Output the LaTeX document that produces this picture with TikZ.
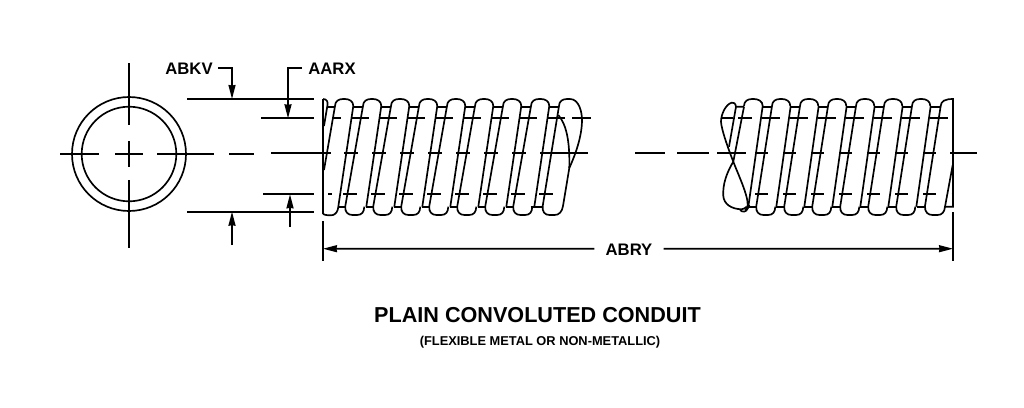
\documentclass[tikz,border=0pt]{standalone}
\usepackage{fontspec}
\setmainfont{Liberation Sans}
\usetikzlibrary{arrows.meta}
\tikzset{
  line/.style={line width=0.95pt},
  dimarrow/.style={line width=0.95pt, -{Stealth[length=0.28cm,width=0.14cm,inset=0.3pt]}},
  callout/.style={font=\fontsize{9.5}{11}\selectfont\bfseries, inner sep=0pt},
}
% one turn of the coil, #1 = x of the crest, #2 = shift of the lower end
\newcommand{\coilband}[2]{
  \draw [line, line join=round] ({#1+18.3},106) .. controls ({#1+18.3},101) and ({#1+14},99) .. ({#1+10},99)
    -- ({#1+8},99) .. controls ({#1+4},99) and (#1,101) .. (#1,106)
    -- ({#1-17.7+#2},206) .. controls ({#1-18.5+#2},212) and ({#1-15+#2},215) .. ({#1-10.5+#2},215)
    -- ({#1-6+#2},215) .. controls ({#1-1+#2},215) and ({#1+1+#2},212) .. ({#1+1.3+#2},206.7);
}
\begin{document}
\begin{tikzpicture}[x=0.02cm,y=-0.02cm]
  \useasboundingbox (0,0) rectangle (1024,407);
  % end view
  \draw [line] (129,154) circle [radius=57];
  \draw [line] (129,154) circle [radius=47.3];
  \draw [line] (129,63) -- (129,125) (129,141) -- (129,167) (129,180) -- (129,248);
  \draw [line] (60,154) -- (99,154) (115,154) -- (143,154) (157,154) -- (214,154) (229,154) -- (254,154);
  % extension lines
  \draw [line] (187,99) -- (314,99) (261,118.3) -- (314,118.3) (263,194.3) -- (314,194.3) (187,211.7) -- (314,211.7);
  \draw [line] (323,221) -- (323,261) (953,212) -- (953,261);
  % labels and arrows
  \node [callout] (abkv) at (189,69) {ABKV};
  \node [callout] (aarx) at (332,69) {AARX};
  \node [callout] (abry) at (629,250) {ABRY};
  \coordinate (abkvtop) at (232,99);
  \coordinate (aarxtop) at (288,118.3);
  \draw [dimarrow] (218,68) -| (abkvtop);
  \draw [dimarrow] (302,68) -| (aarxtop);
  \draw [dimarrow] (232,245) -- (232,211.7);
  \draw [dimarrow] (290,227) -- (290,194.3);
  \coordinate (abryl) at (323,248.7);
  \coordinate (abryr) at (953,248.7);
  \draw [dimarrow] (abry.west) ++(-11,-1.3) -- (abryl);
  \draw [dimarrow] (abry.east) ++(11,-1.3) -- (abryr);
  % left section, centre dashes
  \draw [line] (271,153) -- (331,153) (333,118.3) -- (341,118.3) (328,194) -- (332,194);
  \foreach \k in {0,...,7} {
    \draw [line] ({351.7+28*\k},118.3) -- ({369.3+28*\k},118.3);
    \draw [line] ({344.3+28*\k},153) -- ({357.7+28*\k},153);
    \draw [line] ({343.3+28*\k},194) -- ({356.7+28*\k},194);
  }
  \draw [line] (541.7,153) -- (588,153) (572.3,118.3) -- (590.7,118.3);
  % left section, coil
  \draw [line] (323,99) -- (323,214);
  \draw [line] (323,99) .. controls (327,99) and (328,102) .. (327.5,105) -- (324,126);
  \draw [line] (327.5,106.7) -- (335,106.7);
  \draw [line] (335,106) -- (324,170);
  \draw [line] (323,214) .. controls (326,215.5) and (330,215.5) .. (333,215) .. controls (336,214) and (338,211) .. (338.3,206.7);
  \draw [line] (335,106) .. controls (335,101) and (339,99) .. (343,99) -- (345,99)
    .. controls (349,99) and (353.3,101) .. (353.3,106) -- (338.3,206.7);
  \foreach \k in {1,...,7} {
    \pgfmathsetmacro{\xc}{335+28*\k}
    \coilband{\xc}{0}
    \draw [line] ({\xc+18.3},106) -- ({\xc+3.3},206.7);
    \draw [line] ({\xc-9.7},106.7) -- (\xc,106.7);
    \draw [line] ({\xc-24.7},206.7) -- ({\xc-17},206.7);
  }
  % last turn of the left section with its break
  \draw [line] (559,106) -- (542.7,206)
    .. controls (542,212) and (545,215) .. (549.5,215) -- (554.5,215)
    .. controls (559,215) and (562,212) .. (563,206) -- (569.3,168)
    .. controls (572,162) and (582,140) .. (582,120)
    .. controls (582,112) and (579,99) .. (570,99) -- (567,99)
    .. controls (563,99) and (559,101) .. (559,106);
  \draw [line] (558.3,115) .. controls (566,124) and (570,140) .. (569.3,168);
  \draw [line] (549.3,106.7) -- (559,106.7) (530.7,206.7) -- (543,206.7);
  % right section, centre dashes
  \draw [line] (635,153) -- (665,153) (677,153) -- (709,153) (717,153) -- (746,153);
  \draw [line] (721,118.3) -- (733,118.3) (738,118.3) -- (752,118.3);
  \foreach \k in {0,...,6} {
    \draw [line] ({762.3+28*\k},118.3) -- ({780+28*\k},118.3);
    \draw [line] ({755+28*\k},153) -- ({768.3+28*\k},153);
    \draw [line] ({755+28*\k},194) -- ({767.7+28*\k},194);
  }
  \draw [line] (950,153) -- (977,153) (951.7,194) -- (953,194);
  % right section, coil
  \foreach \k in {1,...,6} {
    \pgfmathsetmacro{\xc}{744+28*\k}
    \coilband{\xc}{2}
    \draw [line] ({\xc-9.7},106.7) -- (\xc,106.7);
    \draw [line] ({\xc-23.7},206.7) -- ({\xc-16},206.7);
  }
  \foreach \k in {0,...,6} {
    \pgfmathsetmacro{\xc}{744+28*\k}
    \draw [line] ({\xc+18.7},106) -- ({\xc+4.3},206.7);
  }
  % crest of the first turn and the end of the last one
  \draw [line] (744,106) .. controls (744,101) and (748,99) .. (752,99) -- (754,99)
    .. controls (758,99) and (762.7,101) .. (762.7,106);
  \draw [line] (744,106.7) -- (733.3,161.7);
  \draw [line] (736,106.7) -- (744,106.7) (736,106.7) -- (729,146.7);
  \draw [line] (748.3,206.7) -- (756,206.7);
  \draw [line] (940.7,106) .. controls (941,101) and (945,99) .. (953,99) -- (953,206.7) -- (945,206.7);
  \draw [line] (940.7,106) -- (925,206) .. controls (924.5,212) and (928,215) .. (932.5,215)
    -- (937.5,215) .. controls (942,215) and (944.5,212) .. (945,206.7) -- (952.7,165);
  \draw [line] (931,106.7) -- (940.7,106.7) (917,206.7) -- (925,206.7);
  % break of the right section
  \draw [line] (736,106.7) .. controls (735.5,103) and (733.5,102.3) .. (731.7,102.7)
    .. controls (726,104) and (721,114) .. (721,121.7)
    .. controls (721.5,130) and (728,148) .. (733.3,161.7)
    .. controls (738,174) and (748,195) .. (747.7,205)
    .. controls (747.5,208) and (746.5,209.5) .. (745,210);
  \draw [line] (733.3,161.7) .. controls (727,172) and (722.5,184) .. (723.3,196)
    .. controls (724,204) and (731,209) .. (741.7,209.3)
    .. controls (743.5,209) and (745.5,208) .. (746.7,206.7);
  \draw [line] (740,210) .. controls (742,212) and (746,213) .. (748,208) -- (749.3,205);
  % titles
  \node [font=\fontsize{12.3}{14}\selectfont\bfseries, inner sep=0pt] (title) at (537.5,315) {PLAIN CONVOLUTED CONDUIT};
  \node [font=\fontsize{7.3}{9}\selectfont\bfseries, inner sep=0pt] (subtitle) at (540,342) {(FLEXIBLE METAL OR NON-METALLIC)};
\end{tikzpicture}
\end{document}
